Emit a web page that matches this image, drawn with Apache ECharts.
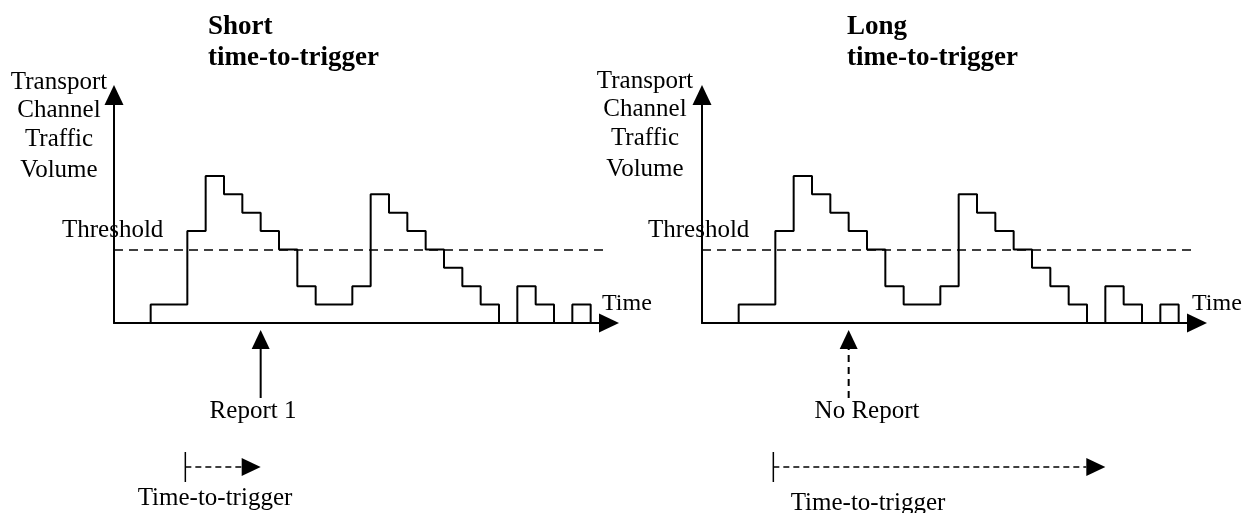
<!DOCTYPE html>
<html>
<head>
<meta charset="utf-8">
<title>Time-to-trigger</title>
<script src="https://cdn.jsdelivr.net/npm/echarts@6/dist/echarts.min.js"></script>
<style>
html, body { margin: 0; padding: 0; background: #fff; }
#main { width: 1252px; height: 513px; }
</style>
</head>
<body>
<div id="main"></div>
<script>
// one slot = one measurement period
var timeSlots = [0, 1, 2, 3, 4, 5, 6, 7, 8, 9, 10, 11, 12, 13, 14, 15, 16, 17, 18, 19, 20, 21, 22, 23, 24, 25, 26, 27];
// traffic volume held during each slot (same trace in both panels)
var trafficLevels = [0, 0, 1, 1, 5, 8, 7, 6, 5, 4, 2, 1, 1, 2, 7, 6, 5, 4, 3, 2, 1, 0, 2, 1, 0, 1, 0, 0];
var threshold = 4;

var panelTitles = ['Short', 'Long'];
var reportLabels = ['Report 1', 'No Report'];
var reportTimes = [8, 8];
var triggerStart = [4, 4];
var triggerEnd = [8, 22];
var yLabelLines = ['Transport', 'Channel', 'Traffic', 'Volume'];

var FONT = '"Liberation Serif", "Times New Roman", serif';
var grids = [
    { left: 114, top: 95, width: 495, height: 228 },
    { left: 702, top: 95, width: 495, height: 228 }
];

var chart = echarts.init(document.getElementById('main'));

var trace = timeSlots.map(function (t, i) { return [t, trafficLevels[i]]; });

function axisPair(i) {
    var line = {
        show: true,
        symbol: ['none', 'triangle'],
        symbolSize: [19, 20],
        lineStyle: { color: '#000', width: 2 }
    };
    return {
        x: {
            type: 'value', gridIndex: i, min: 0, max: 27,
            axisLine: line, axisTick: { show: false }, axisLabel: { show: false }, splitLine: { show: false }
        },
        y: {
            type: 'value', gridIndex: i, min: 0, max: 12.4,
            axisLine: line, axisTick: { show: false }, axisLabel: { show: false }, splitLine: { show: false }
        }
    };
}

var xAxes = [], yAxes = [], series = [];
for (var i = 0; i < 2; i++) {
    var ax = axisPair(i);
    xAxes.push(ax.x);
    yAxes.push(ax.y);

    series.push({
        type: 'line',
        xAxisIndex: i, yAxisIndex: i,
        step: 'end',
        data: trace,
        showSymbol: false,
        symbol: 'none',
        lineStyle: { color: '#000', width: 2 },
        markLine: {
            silent: true,
            symbol: ['none', 'none'],
            label: { show: false },
            lineStyle: { color: '#000', width: 1.6, type: [9, 6] },
            data: [{ yAxis: threshold }]
        },
        z: 3
    });

    // report arrow under the time axis
    (function (idx) {
        series.push({
            type: 'custom',
            xAxisIndex: idx, yAxisIndex: idx,
            data: [[reportTimes[idx], 0]],
            renderItem: function (params, api) {
                var p = api.coord([api.value(0), 0]);
                var tip = p[1] + 7, tail = p[1] + 75;
                return {
                    type: 'group',
                    children: [
                        { type: 'line', shape: { x1: p[0], y1: tail, x2: p[0], y2: tip + 18 },
                          style: { stroke: '#000', lineWidth: 2, lineDash: idx === 1 ? [7, 5] : null } },
                        { type: 'polygon', shape: { points: [[p[0], tip], [p[0] - 9, tip + 19], [p[0] + 9, tip + 19]] },
                          style: { fill: '#000' } }
                    ]
                };
            }
        });
        // time-to-trigger span
        series.push({
            type: 'custom',
            xAxisIndex: idx, yAxisIndex: idx,
            data: [[triggerStart[idx], triggerEnd[idx], 0]],
            encode: { x: [0, 1], y: 2 },
            renderItem: function (params, api) {
                var a = api.coord([api.value(0), 0]);
                var b = api.coord([api.value(1), 0]);
                var y = a[1] + 144;
                return {
                    type: 'group',
                    children: [
                        { type: 'line', shape: { x1: a[0] - 2, y1: y - 15, x2: a[0] - 2, y2: y + 15 },
                          style: { stroke: '#000', lineWidth: 1.5 } },
                        { type: 'line', shape: { x1: a[0] - 2, y1: y, x2: b[0] - 19, y2: y },
                          style: { stroke: '#000', lineWidth: 1.5, lineDash: [6, 4] } },
                        { type: 'polygon', shape: { points: [[b[0], y], [b[0] - 19, y - 9], [b[0] - 19, y + 9]] },
                          style: { fill: '#000' } }
                    ]
                };
            }
        });
    })(i);
}

function txt(text, x, baseline, opt) {
    opt = opt || {};
    var size = opt.size || 25;
    return {
        type: 'text',
        x: x,
        y: baseline - size * 0.18,
        silent: true,
        style: {
            text: text,
            fill: '#000',
            font: (opt.bold ? 'bold ' : '') + size + 'px ' + FONT,
            textAlign: opt.align || 'left',
            textVerticalAlign: 'middle',
            verticalAlign: 'middle'
        }
    };
}

var graphics = [];
var titleX = [208, 847];
var ylabCenter = [59, 645];
var reportCenter = [253, 867];
var triggerCenter = [215, 868];
var triggerBase = [503, 508];
for (var k = 0; k < 2; k++) {
    graphics.push(txt(panelTitles[k], titleX[k], 32, { bold: true, size: 27 }));
    graphics.push(txt('time-to-trigger', titleX[k], 63, { bold: true, size: 27 }));
    var base = [87, 115, 144, 175];
    for (var j = 0; j < yLabelLines.length; j++) {
        graphics.push(txt(yLabelLines[j], ylabCenter[k], base[j] - (k ? 1.5 : 0), { align: 'center' }));
    }
    graphics.push(txt('Threshold', k ? 648 : 62, 235));
    graphics.push(txt('Time', k ? 1192 : 602, 308, { size: 24 }));
    graphics.push(txt(reportLabels[k], reportCenter[k], 416, { align: 'center' }));
    graphics.push(txt('Time-to-trigger', triggerCenter[k], triggerBase[k], { align: 'center' }));
}

chart.setOption({
    animation: false,
    backgroundColor: '#fff',
    grid: grids,
    xAxis: xAxes,
    yAxis: yAxes,
    series: series,
    graphic: graphics
});
</script>
</body>
</html>
